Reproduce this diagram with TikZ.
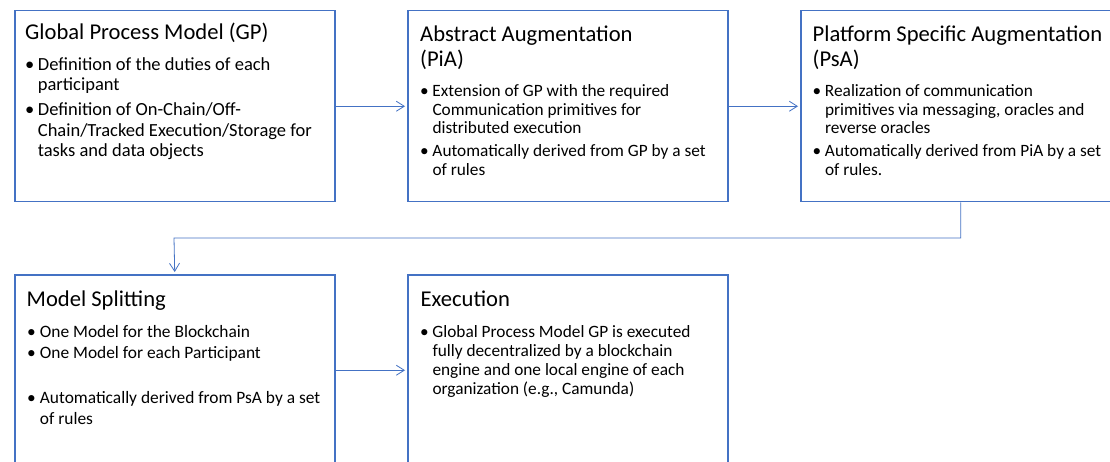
\documentclass[tikz,border=0pt]{standalone}
\usepackage{fontspec}
\setmainfont{Carlito}
\usetikzlibrary{arrows.meta}
\definecolor{boxblue}{HTML}{4472C4}
\newcommand{\fs}[2]{\fontsize{#1}{#2}\selectfont}
\begin{document}
\begin{tikzpicture}[x=1pt,y=-1pt,
  box/.style={draw=boxblue, line width=1.5pt, minimum width=320pt, minimum height=191pt, inner sep=0pt, anchor=north west},
  conn/.style={draw=boxblue, line width=0.8pt, -{Straight Barb[length=8pt,width=10pt]}, shorten >=2pt},
  txt/.style={anchor=north west, inner sep=0pt, text=black},
  bigtitle/.style={txt, font=\fs{22.6}{26.8}},
  midtitle/.style={txt, font=\fs{22.6}{24.4}},
  bigbody/.style={txt, font=\fs{18.5}{20.7}},
  msbody/.style={txt, font=\fs{17.4}{20.7}},
  smallbody/.style={txt, font=\fs{17.3}{18.3}},
  exbody/.style={txt, font=\fs{17.3}{18.9}}
]
\clip (0,0) rectangle (1110,462);
\fill[white] (0,0) rectangle (1110,462);

% boxes
\node[box] (gp) at (14,10) {};
\node[box] (pia) at (407,10) {};
\node[box] (psa) at (800,10) {};
\node[box] (ms) at (14,274) {};
\node[box] (ex) at (407,274) {};

% box 1
\node[bigtitle] (gpt) at (25,20.7) {\begin{tabular}{@{}l@{}}Global Process Model (GP)\end{tabular}};
\node[bigbody] (gpb) at (25,55.5) {\begin{tabular}{@{}p{12.7pt}@{}l@{}}
\textbullet & Definition of the duties of each\\
 & participant\\[3.8pt]
\textbullet & Definition of On-Chain/Off-\\
 & Chain/Tracked Execution/Storage for\\
 & tasks and data objects
\end{tabular}};

% box 2
\node[midtitle] (piat) at (420,24.6) {\begin{tabular}{@{}l@{}}Abstract Augmentation\\(PiA)\end{tabular}};
\node[smallbody] (piab) at (420,83.9) {\begin{tabular}{@{}p{12.3pt}@{}l@{}}
\textbullet & Extension of GP with the required\\
 & Communication primitives for\\
 & distributed execution\\[5pt]
\textbullet & Automatically derived from GP by a set\\
 & of rules
\end{tabular}};

% box 3
\node[midtitle] (psat) at (812.5,24.6) {\begin{tabular}{@{}l@{}}Platform Specific Augmentation\\(PsA)\end{tabular}};
\node[smallbody] (psab) at (812.5,83.9) {\begin{tabular}{@{}p{12.3pt}@{}l@{}}
\textbullet & Realization of communication\\
 & primitives via messaging, oracles and\\
 & reverse oracles\\[5pt]
\textbullet & Automatically derived from PiA by a set\\
 & of rules.
\end{tabular}};

% box 4
\node[bigtitle] (mst) at (26.5,287.2) {\begin{tabular}{@{}l@{}}Model Splitting\end{tabular}};
\node[msbody] (msb) at (27,322.8) {\begin{tabular}{@{}p{12.7pt}@{}l@{}}
\textbullet & One Model for the Blockchain\\
\textbullet & One Model for each Participant\\[24.6pt]
\textbullet & Automatically derived from PsA by a set\\
 & of rules
\end{tabular}};

% box 5
\node[bigtitle] (ext) at (420.5,287.2) {\begin{tabular}{@{}l@{}}Execution\end{tabular}};
\node[exbody] (exb) at (420,324.1) {\begin{tabular}{@{}p{12.3pt}@{}l@{}}
\textbullet & Global Process Model GP is executed\\
 & fully decentralized by a blockchain\\
 & engine and one local engine of each\\
 & organization (e.g., Camunda)
\end{tabular}};

% connectors
\draw[conn] (gp.east) -- (pia.west);
\draw[conn] (pia.east) -- (psa.west);
\draw[conn] (psa.south) |- (174,238) -- (ms.north);
\draw[conn] (ms.east) -- (ex.west);
\end{tikzpicture}
\end{document}
